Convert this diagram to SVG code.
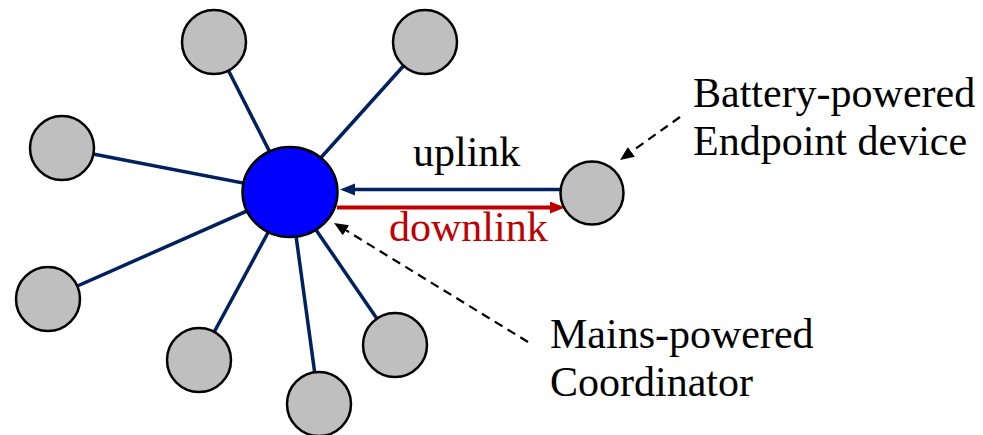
<svg xmlns="http://www.w3.org/2000/svg" width="983" height="435" viewBox="0 0 983 435">
<defs>
<style>
.edge{stroke:#002060;stroke-width:3.5;fill:none}
.leaf{fill:#BFBFBF;stroke:#000;stroke-width:2.5}
.hub{fill:#0000FF;stroke:#000;stroke-width:2.5}
.lbl{font-family:"Liberation Serif","Times New Roman",serif;font-size:42px;fill:#000}
.dash{stroke:#000;stroke-width:2.2;stroke-dasharray:9 6;fill:none}
</style>
<marker id="ahNavy" markerUnits="userSpaceOnUse" markerWidth="16" markerHeight="14" refX="0" refY="6" orient="auto"><path d="M0,0 L15,6 L0,12 z" fill="#002060"/></marker>
<marker id="ahRed" markerUnits="userSpaceOnUse" markerWidth="16" markerHeight="14" refX="0" refY="6" orient="auto"><path d="M0,0 L15,6 L0,12 z" fill="#C00000"/></marker>
<marker id="ahBlack" markerUnits="userSpaceOnUse" markerWidth="16" markerHeight="14" refX="0" refY="6" orient="auto"><path d="M0,0 L14,6 L0,12 z" fill="#000"/></marker>
</defs>
<rect width="983" height="435" fill="#fff"/>
<g id="connectors">
<line class="edge" x1="290" y1="192" x2="214" y2="42"/>
<line class="edge" x1="290" y1="192" x2="425" y2="42"/>
<line class="edge" x1="290" y1="192" x2="62" y2="148"/>
<line class="edge" x1="290" y1="192" x2="48" y2="299"/>
<line class="edge" x1="290" y1="192" x2="199" y2="360"/>
<line class="edge" x1="290" y1="192" x2="319" y2="404"/>
<line class="edge" x1="290" y1="192" x2="395" y2="345"/>
<line x1="560" y1="189.5" x2="355" y2="189.5" stroke="#002060" stroke-width="3.5" marker-end="url(#ahNavy)"/>
<line x1="337" y1="207.5" x2="550" y2="207.5" stroke="#C00000" stroke-width="4" marker-end="url(#ahRed)"/>
<line class="dash" x1="528" y1="342" x2="346" y2="230.3" marker-end="url(#ahBlack)"/>
<line class="dash" x1="680" y1="117" x2="631.4" y2="151.8" marker-end="url(#ahBlack)"/>
</g>
<g id="n1"><circle class="leaf" cx="214" cy="42" r="32"/></g>
<g id="n2"><circle class="leaf" cx="425" cy="42" r="32"/></g>
<g id="n3"><circle class="leaf" cx="62" cy="148" r="32"/></g>
<g id="n4"><circle class="leaf" cx="48" cy="299" r="32"/></g>
<g id="n5"><circle class="leaf" cx="199" cy="360" r="32"/></g>
<g id="n6"><circle class="leaf" cx="319" cy="404" r="32"/></g>
<g id="n7"><circle class="leaf" cx="395" cy="345" r="32"/></g>
<g id="coordinator"><ellipse class="hub" cx="290" cy="192" rx="47.5" ry="45"/></g>
<g id="endpoint"><circle class="leaf" cx="592" cy="193" r="31.5"/></g>
<g id="labels">
<text class="lbl" x="413" y="166">uplink</text>
<text class="lbl" x="389" y="241" style="fill:#C00000">downlink</text>
<text class="lbl" x="693" y="107">Battery-powered</text>
<text class="lbl" x="693" y="155">Endpoint device</text>
<text class="lbl" x="550" y="348">Mains-powered</text>
<text class="lbl" x="550" y="396">Coordinator</text>
</g>
</svg>
